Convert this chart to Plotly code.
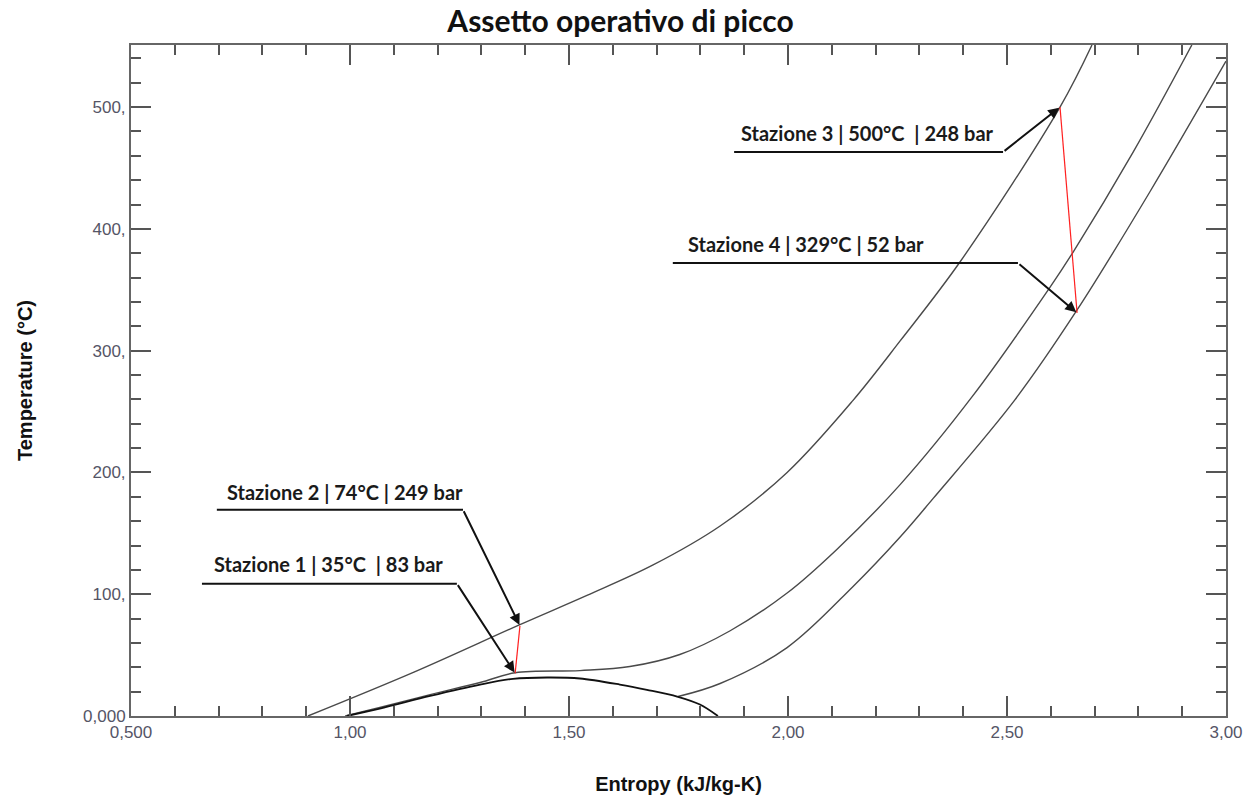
import plotly.graph_objects as go

# ---- data (entropy kJ/kg-K, temperature °C) ----
iso249_s = [0.904, 1.146, 1.388, 1.541, 1.692, 1.845, 1.998, 2.148, 2.256, 2.393, 2.621, 2.694]
iso249_T = [0.0, 36.0, 75.0, 99.0, 124.0, 156.0, 200.0, 259.0, 308.0, 373.0, 500.0, 551.0]

iso83_s = [0.989, 1.068, 1.183, 1.297, 1.377, 1.525, 1.639, 1.753, 1.868, 1.998, 2.112, 2.256, 2.420, 2.598, 2.651, 2.788, 2.922]
iso83_T = [0.0, 7.0, 17.6, 27.5, 35.5, 37.3, 40.6, 50.5, 70.0, 101.0, 137.0, 190.0, 262.0, 352.0, 381.0, 463.0, 551.0]

iso52_s = [1.749, 1.845, 1.998, 2.148, 2.256, 2.331, 2.518, 2.660, 2.826, 3.000]
iso52_T = [16.0, 26.7, 56.2, 106.2, 147.0, 178.5, 259.6, 333.4, 430.3, 537.7]

dome_s = [0.993, 1.068, 1.183, 1.297, 1.372, 1.450, 1.525, 1.616, 1.678, 1.747, 1.799, 1.840]
dome_T = [0.0, 6.0, 16.5, 25.8, 30.5, 31.6, 30.8, 25.8, 21.5, 16.0, 9.4, 0.0]

# stations
st_s = [1.377, 1.388, 2.621, 2.660]
st_T = [35.0, 74.0, 500.0, 331.0]
st_labels = ["Stazione 1 | 35°C  | 83 bar",
             "Stazione 2 | 74°C | 249 bar",
             "Stazione 3 | 500°C  | 248 bar",
             "Stazione 4 | 329°C | 52 bar"]

x_tickvals = [0.5, 1.0, 1.5, 2.0, 2.5, 3.0]
x_ticktext = ["0,500", "1,00", "1,50", "2,00", "2,50", "3,00"]
y_tickvals = [0, 100, 200, 300, 400, 500]
y_ticktext = ["0,000", "100,", "200,", "300,", "400,", "500,"]

# callout geometry: underline (x_left, x_right, y) and text anchor (x, y)
callouts = [
    dict(xl=0.662, xr=1.244, y=108.7, tx=0.684, ty=124.5),
    dict(xl=0.696, xr=1.258, y=169.4, tx=0.714, ty=184.0),
    dict(xl=1.877, xr=2.491, y=463.1, tx=1.887, ty=479.0),
    dict(xl=1.737, xr=2.525, y=372.0, tx=1.766, ty=388.0),
]

fig = go.Figure()
line_col = "#4a4a4a"
for s, T in [(iso249_s, iso249_T), (iso83_s, iso83_T), (iso52_s, iso52_T)]:
    fig.add_trace(go.Scatter(x=s, y=T, mode="lines",
                             line=dict(color=line_col, width=1.4, shape="spline", smoothing=1.0),
                             hoverinfo="skip", showlegend=False))
fig.add_trace(go.Scatter(x=dome_s, y=dome_T, mode="lines",
                         line=dict(color="#111111", width=1.8, shape="spline", smoothing=0.9),
                         hoverinfo="skip", showlegend=False))
# process lines 1-2 and 3-4
fig.add_trace(go.Scatter(x=[st_s[0], st_s[1]], y=[st_T[0], st_T[1]], mode="lines",
                         line=dict(color="#ff2020", width=1.2), hoverinfo="skip", showlegend=False))
fig.add_trace(go.Scatter(x=[st_s[2], st_s[3]], y=[st_T[2], st_T[3]], mode="lines",
                         line=dict(color="#ff2020", width=1.2), hoverinfo="skip", showlegend=False))

annotations = []
shapes = []
for i, c in enumerate(callouts):
    shapes.append(dict(type="line", xref="x", yref="y", x0=c["xl"], x1=c["xr"], y0=c["y"], y1=c["y"],
                       line=dict(color="#111111", width=2)))
    annotations.append(dict(x=st_s[i], y=st_T[i], xref="x", yref="y",
                            ax=c["xr"], ay=c["y"], axref="x", ayref="y",
                            showarrow=True, arrowhead=2, arrowsize=1.1, arrowwidth=2,
                            arrowcolor="#111111", text="", standoff=1))
    annotations.append(dict(x=c["tx"], y=c["ty"], xref="x", yref="y", xanchor="left", yanchor="middle",
                            showarrow=False, text="<b>" + st_labels[i] + "</b>",
                            font=dict(family="Lato", size=20, color="#1a1a1a")))

fig.update_layout(
    width=1251, height=796,
    paper_bgcolor="white", plot_bgcolor="white",
    margin=dict(l=131, r=25, t=45, b=80, autoexpand=False),
    title=dict(text="<b>Assetto operativo di picco</b>", x=0.496, xanchor="center",
               y=0.9724, yanchor="middle", font=dict(family="Lato", size=30, color="#111111")),
    shapes=shapes, annotations=annotations,
    showlegend=False,
)
axis_font = "Liberation Sans, Arial, sans-serif"
axis_common = dict(
    automargin=False,
    showgrid=False, zeroline=False, showline=True, linecolor="#666666", linewidth=2,
    mirror="allticks", ticks="inside", ticklen=20, tickwidth=1.6, tickcolor="#555555",
    tickfont=dict(family=axis_font, size=17, color="#555566"),
)
fig.update_xaxes(range=[0.5, 3.0], tickvals=x_tickvals, ticktext=x_ticktext,
                 ticklabelstandoff=0,
                 minor=dict(dtick=0.1, ticks="inside", ticklen=10, tickwidth=1.6, tickcolor="#555555"),
                 title=dict(text="<b>Entropy (kJ/kg-K)</b>", standoff=36,
                            font=dict(family=axis_font, size=20, color="#111111")),
                 **axis_common)
fig.update_yaxes(range=[0, 551], tickvals=y_tickvals, ticktext=y_ticktext,
                 minor=dict(dtick=20, ticks="inside", ticklen=10, tickwidth=1.6, tickcolor="#555555"),
                 title=dict(text="<b>Temperature (°C)</b>", standoff=45,
                            font=dict(family=axis_font, size=20, color="#111111")),
                 **axis_common)

fig.write_html("out.html", config={"displayModeBar": False},
               post_script="document.body.style.margin='0px';")
